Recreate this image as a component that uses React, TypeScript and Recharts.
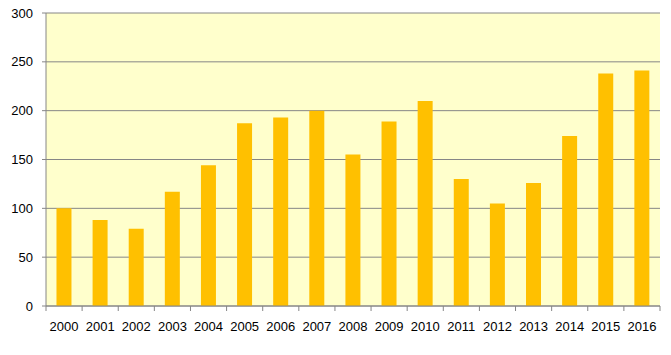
import React from "react";
import { BarChart, Bar, XAxis, YAxis, CartesianGrid } from "recharts";

const years = ["2000","2001","2002","2003","2004","2005","2006","2007","2008","2009","2010","2011","2012","2013","2014","2015","2016"];
const values = [100, 88, 79, 117, 144, 187, 193, 200, 155, 189, 210, 130, 105, 126, 174, 238, 241];
const yTicks = [0, 50, 100, 150, 200, 250, 300];

const data = years.map((y, i) => ({ year: y, value: values[i] }));

const W = 671;
const H = 355;
const MARGIN = { top: 13, right: 11, bottom: 0, left: 0 };
const Y_AXIS_W = 46;
const X_AXIS_H = 49;
const PLOT_LEFT = MARGIN.left + Y_AXIS_W;
const PLOT_RIGHT = W - MARGIN.right;
const PLOT_BOTTOM = H - MARGIN.bottom - X_AXIS_H;
const STEP = (PLOT_RIGHT - PLOT_LEFT) / years.length;
const AXIS_COLOR = "#868686";
const FONT = "'Liberation Sans', Arial, sans-serif";

const XTick = (props: any) => {
  const { x, payload, index } = props;
  const left = x - STEP / 2;
  const right = x + STEP / 2;
  return (
    <g>
      <line x1={left} x2={left} y1={PLOT_BOTTOM} y2={PLOT_BOTTOM + 5} stroke={AXIS_COLOR} />
      {index === years.length - 1 && (
        <line x1={right} x2={right} y1={PLOT_BOTTOM} y2={PLOT_BOTTOM + 5} stroke={AXIS_COLOR} />
      )}
      <text x={x} y={PLOT_BOTTOM + 20} dy="0.36em" textAnchor="middle" fill="#000" fontSize={13} fontFamily={FONT}>
        {payload.value}
      </text>
    </g>
  );
};

export default function App() {
  return (
    <div style={{ position: "fixed", left: 0, top: 0, width: W, height: H, background: "#fff" }}>
      <BarChart width={W} height={H} data={data} margin={MARGIN} barCategoryGap="29%">
        <CartesianGrid vertical={false} stroke={AXIS_COLOR} fill="#FFFFCC" fillOpacity={1} />
        <XAxis
          dataKey="year"
          height={X_AXIS_H}
          axisLine={{ stroke: AXIS_COLOR }}
          tickLine={false}
          tick={<XTick />}
          interval={0}
        />
        <YAxis
          width={Y_AXIS_W}
          domain={[0, 300]}
          ticks={yTicks}
          interval={0}
          axisLine={{ stroke: AXIS_COLOR }}
          tickLine={{ stroke: AXIS_COLOR }}
          tickSize={4}
          tickMargin={9}
          tick={{ fill: "#000", fontSize: 13, fontFamily: FONT }}
        />
        <Bar dataKey="value" fill="#FFC000" isAnimationActive={false} />
      </BarChart>
    </div>
  );
}
